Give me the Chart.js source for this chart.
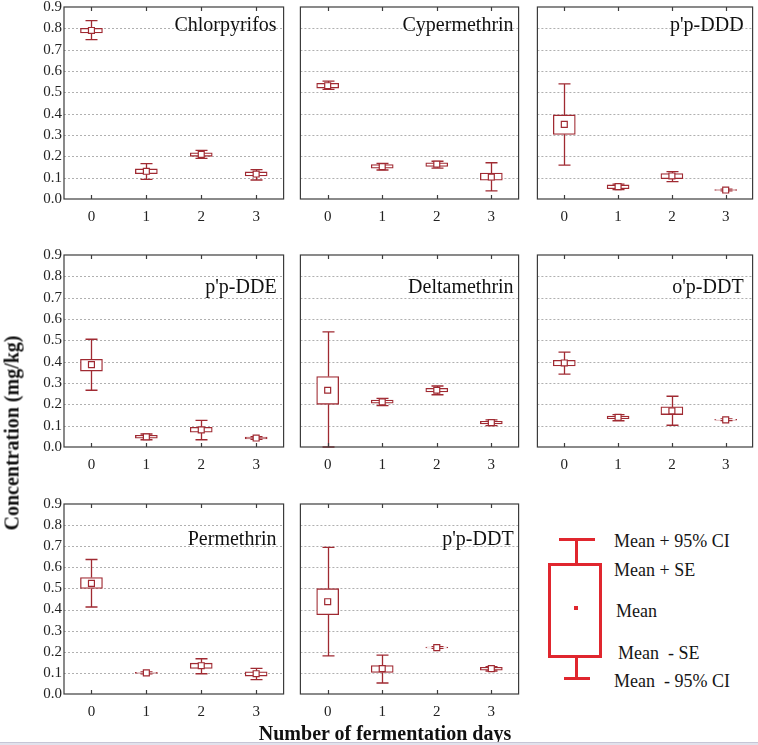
<!DOCTYPE html>
<html><head><meta charset="utf-8">
<script src="https://cdn.jsdelivr.net/npm/chart.js@4.4.1/dist/chart.umd.min.js"></script>
<style>
html,body{margin:0;padding:0;background:#fff;}
body{width:758px;height:745px;overflow:hidden;position:relative;font-family:'Liberation Serif','Times New Roman',serif;color:#111;}
.pane{position:absolute;}
.lg{position:absolute;background:#e0262e;}
.lt{position:absolute;font-size:18px;line-height:18px;white-space:pre;color:#151515;transform:translateY(-50%);}
#ytitle{position:absolute;left:12px;top:433px;font-weight:bold;font-size:20px;white-space:nowrap;transform:translate(-50%,-50%) rotate(-90deg);}
#xtitle{position:absolute;left:385px;top:733px;font-weight:bold;font-size:20px;white-space:nowrap;transform:translate(-50%,-50%);}
#bottomline{position:absolute;left:0;top:742px;width:758px;height:3px;background:#e2e2ec;border-top:1px solid #c6c6d6;}
</style></head><body>
<script>
// ---------- data ----------
const days = ['0', '1', '2', '3'];
const pesticides = ['Chlorpyrifos', 'Cypermethrin', "p'p-DDD", "p'p-DDE", 'Deltamethrin', "o'p-DDT", 'Permethrin', "p'p-DDT"];
const yTicks = [0, 0.1, 0.2, 0.3, 0.4, 0.5, 0.6, 0.7, 0.8, 0.9];

const meanVals = [
  [0.790, 0.130, 0.209, 0.117],
  [0.531, 0.152, 0.163, 0.103],
  [0.350, 0.058, 0.108, 0.042],
  [0.386, 0.048, 0.080, 0.042],
  [0.266, 0.212, 0.266, 0.114],
  [0.394, 0.139, 0.169, 0.127],
  [0.524, 0.100, 0.134, 0.096],
  [0.437, 0.120, 0.220, 0.120]
];
const seUpper = [
  [0.800, 0.141, 0.217, 0.127],
  [0.542, 0.161, 0.170, 0.122],
  [0.394, 0.066, 0.119, 0.044],
  [0.411, 0.055, 0.092, 0.046],
  [0.330, 0.220, 0.275, 0.120],
  [0.406, 0.145, 0.188, 0.130],
  [0.552, 0.103, 0.146, 0.105],
  [0.499, 0.135, 0.222, 0.126]
];
const seLower = [
  [0.778, 0.119, 0.200, 0.108],
  [0.520, 0.144, 0.153, 0.088],
  [0.303, 0.048, 0.095, 0.040],
  [0.356, 0.041, 0.069, 0.038],
  [0.200, 0.205, 0.258, 0.108],
  [0.380, 0.133, 0.152, 0.126],
  [0.500, 0.097, 0.121, 0.085],
  [0.376, 0.102, 0.218, 0.113]
];
const ciUpper = [
  [0.836, 0.166, 0.228, 0.138],
  [0.553, 0.167, 0.177, 0.170],
  [0.540, 0.070, 0.128, 0.046],
  [0.505, 0.061, 0.125, 0.048],
  [0.540, 0.228, 0.286, 0.127],
  [0.445, 0.152, 0.238, 0.132],
  [0.637, 0.105, 0.167, 0.121],
  [0.695, 0.184, 0.224, 0.130]
];
const ciLower = [
  [0.747, 0.092, 0.190, 0.089],
  [0.514, 0.136, 0.145, 0.038],
  [0.159, 0.044, 0.081, 0.038],
  [0.266, 0.034, 0.034, 0.036],
  [0.000, 0.194, 0.245, 0.100],
  [0.342, 0.123, 0.102, 0.124],
  [0.412, 0.095, 0.096, 0.068],
  [0.181, 0.052, 0.216, 0.109]
];

// ---------- layout / style ----------
const colX = [[64, 287], [297, 522], [534, 756]];
const rowY = [[7, 199], [255, 447], [504, 694]];
const titleDrop = [24, 38, 41];
const titleInset = [7, 5, 9];
const RED = '#a02a32';
const FRAME = '#3c3c3c';
const FONT = "'Liberation Serif', 'Times New Roman', serif";

const decoPlugin = {
  id: 'deco',
  beforeDatasetsDraw(chart, args, opts) {
    const {ctx, chartArea: a, scales: {x, y}} = chart;
    const k = opts.idx;
    ctx.save();
    ctx.strokeStyle = '#b0b0b0';
    ctx.lineWidth = 1;
    ctx.setLineDash([2, 2]);
    yTicks.forEach(v => {
      const py = Math.round(y.getPixelForValue(v)) + 0.5;
      if (py <= a.top + 1 || py >= a.bottom - 1) return;
      ctx.beginPath(); ctx.moveTo(a.left, py); ctx.lineTo(a.right, py); ctx.stroke();
    });
    ctx.setLineDash([]);
    ctx.strokeStyle = RED;
    ctx.lineWidth = 1.3;
    const cap = 6;
    days.forEach((d, i) => {
      const px = Math.round(x.getPixelForValue(i)) + 0.5;
      const yh = y.getPixelForValue(ciUpper[k][i]);
      const yl = y.getPixelForValue(ciLower[k][i]);
      const ysh = y.getPixelForValue(seUpper[k][i]);
      const ysl = y.getPixelForValue(seLower[k][i]);
      ctx.beginPath();
      ctx.moveTo(px, yh); ctx.lineTo(px, ysh);
      ctx.moveTo(px, ysl); ctx.lineTo(px, yl);
      ctx.moveTo(px - cap, yh); ctx.lineTo(px + cap, yh);
      ctx.moveTo(px - cap, yl); ctx.lineTo(px + cap, yl);
      ctx.stroke();
    });
    ctx.restore();
  },
  afterDraw(chart, args, opts) {
    const {ctx, chartArea: a, scales: {x}} = chart;
    ctx.save();
    ctx.strokeStyle = FRAME;
    ctx.lineWidth = 1.2;
    ctx.strokeRect(a.left, a.top, a.right - a.left, a.bottom - a.top);
    days.forEach((d, i) => {
      const px = Math.round(x.getPixelForValue(i)) + 0.5;
      ctx.beginPath();
      ctx.moveTo(px, a.top); ctx.lineTo(px, a.top + 4);
      ctx.moveTo(px, a.bottom); ctx.lineTo(px, a.bottom - 4);
      ctx.stroke();
    });
    ctx.fillStyle = '#111';
    ctx.font = '20px ' + FONT;
    ctx.textAlign = 'right';
    ctx.textBaseline = 'alphabetic';
    ctx.fillText(opts.title, a.right - opts.inset, a.top + opts.drop);
    ctx.restore();
  }
};

pesticides.forEach((name, k) => {
  const r = Math.floor(k / 3), c = k % 3;
  const [pl, pr] = colX[c];
  const [pt, pb] = rowY[r];
  const padL = c === 0 ? 62 : 0;
  const div = document.createElement('div');
  div.className = 'pane';
  const W = 2 + padL + (pr - pl) + 2;
  const H = 8 + (pb - pt) + 28;
  div.style.left = (pl - padL - 2) + 'px';
  div.style.top = (pt - 8) + 'px';
  div.style.width = W + 'px';
  div.style.height = H + 'px';
  const cv = document.createElement('canvas');
  div.appendChild(cv);
  document.body.appendChild(div);

  new Chart(cv, {
    type: 'bar',
    data: {
      labels: days,
      datasets: [
        {
          type: 'bar',
          order: 1,
          data: days.map((d, i) => [seLower[k][i], seUpper[k][i]]),
          backgroundColor: '#ffffff',
          borderColor: RED,
          borderWidth: 1.3,
          borderSkipped: false,
          barThickness: 22
        },
        {
          type: 'line',
          order: 0,
          data: meanVals[k],
          showLine: false,
          pointStyle: 'rect',
          pointRadius: 4.2,
          pointBackgroundColor: '#ffffff',
          pointBorderColor: RED,
          pointBorderWidth: 1.2
        }
      ]
    },
    options: {
      responsive: true,
      maintainAspectRatio: false,
      animation: false,
      events: [],
      layout: {padding: {top: 8, right: 2, left: 2, bottom: 0}},
      plugins: {
        legend: {display: false},
        tooltip: {enabled: false},
        deco: {idx: k, title: name, drop: titleDrop[r], inset: titleInset[c]}
      },
      scales: {
        x: {
          type: 'category',
          offset: true,
          grid: {display: false, drawTicks: false},
          border: {display: false},
          ticks: {font: {family: FONT, size: 15}, color: '#222', padding: 9, maxRotation: 0, autoSkip: false},
          afterFit: s => { s.height = 28; s.paddingLeft = 0; s.paddingRight = 0; }
        },
        y: {
          min: 0,
          max: 0.9,
          grid: {display: false, drawTicks: false},
          border: {display: false},
          afterBuildTicks: s => { s.ticks = yTicks.map(v => ({value: v})); },
          ticks: {
            display: c === 0,
            font: {family: FONT, size: 15},
            color: '#222',
            padding: 2,
            callback: v => Number(v).toFixed(1)
          },
          afterFit: s => { s.width = padL; s.paddingTop = 0; s.paddingBottom = 0; }
        }
      }
    },
    plugins: [decoPlugin]
  });
});
</script>

<div id="ytitle">Concentration (mg/kg)</div>
<div id="xtitle">Number of fermentation days</div>

<!-- legend -->
<div class="lg" style="left:559px;top:538px;width:36px;height:3px;"></div>
<div class="lg" style="left:575px;top:539px;width:3px;height:26px;"></div>
<div class="lg" style="left:548px;top:563px;width:54px;height:95px;background:transparent;border:3px solid #e0262e;box-sizing:border-box;"></div>
<div class="lg" style="left:574px;top:606px;width:4px;height:4px;"></div>
<div class="lg" style="left:575px;top:657px;width:3px;height:21px;"></div>
<div class="lg" style="left:564px;top:677px;width:26px;height:3px;"></div>
<div class="lt" style="left:614px;top:541px;">Mean + 95% CI</div>
<div class="lt" style="left:614px;top:570px;">Mean + SE</div>
<div class="lt" style="left:616px;top:611px;">Mean</div>
<div class="lt" style="left:618px;top:653px;">Mean  - SE</div>
<div class="lt" style="left:614px;top:681px;">Mean  - 95% CI</div>

<div id="bottomline"></div>
</body></html>
